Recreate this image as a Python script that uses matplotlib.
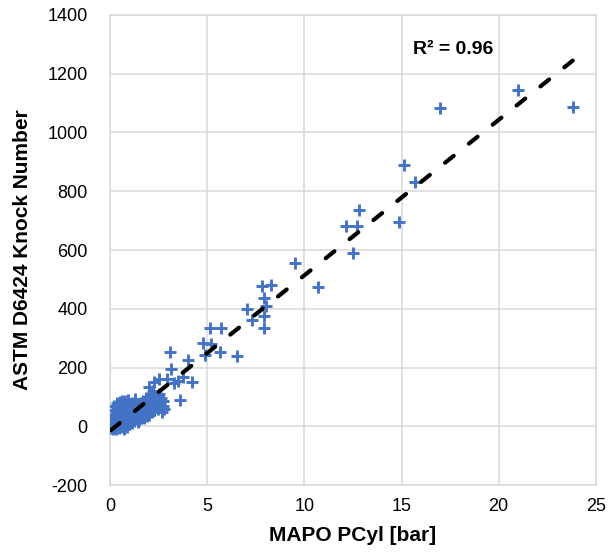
import matplotlib
matplotlib.use('Agg')
import matplotlib.pyplot as plt
import numpy as np

plt.rcParams['font.family'] = ['Liberation Sans', 'DejaVu Sans']
plt.rcParams['lines.scale_dashes'] = False
plt.rcParams['axes.unicode_minus'] = False

# dense cluster near origin (MAPO PCyl [bar], knock number)
cluster_x = [0.05, 0.10, 0.12, 0.15, 0.18, 0.20, 0.22, 0.25, 0.28, 0.30,
             0.32, 0.35, 0.38, 0.40, 0.42, 0.45, 0.48, 0.50, 0.52, 0.55,
             0.58, 0.60, 0.62, 0.65, 0.68, 0.70, 0.72, 0.75, 0.78, 0.80,
             0.82, 0.85, 0.88, 0.90, 0.92, 0.95, 0.98, 1.00, 1.02, 1.05,
             1.08, 1.10, 1.12, 1.15, 1.18, 1.20, 1.22, 1.25, 1.28, 1.30,
             1.32, 1.35, 1.38, 1.40, 1.42, 1.45, 1.48, 1.50, 1.52, 1.55,
             1.58, 1.60, 1.62, 1.65, 1.68, 1.70, 1.72, 1.75, 1.78, 1.80,
             1.82, 1.85, 1.88, 1.90, 1.92, 1.95, 1.98, 2.00, 2.02, 2.05,
             2.08, 2.10, 2.12, 2.15, 2.18, 2.20, 2.22, 2.25, 2.28, 2.30,
             2.35, 2.40, 2.45, 2.50, 2.55, 2.60, 2.65, 2.70, 2.75, 2.80,
             0.08, 0.15, 0.25, 0.30, 0.45, 0.60, 0.70, 0.85, 1.00, 0.20,
             0.35, 0.50, 0.60, 0.40, 0.90, 1.30]
cluster_y = [-5, 2, 10, -8, 15, 25, 5, 35, -2, 12,
             45, 20, 60, 30, 8, 50, 70, 18, 40, -3,
             28, 55, 75, 10, 35, 62, 22, 45, 85, 5,
             30, 58, 15, 40, 70, 25, 50, 8, 35, 65,
             20, 45, 80, 12, 30, 55, 38, 18, 62, 42,
             25, 50, 70, 32, 15, 55, 40, 22, 65, 48,
             30, 75, 52, 35, 60, 42, 88, 28, 55, 70,
             45, 95, 60, 35, 78, 50, 100, 65, 40, 85,
             58, 110, 72, 48, 92, 62, 120, 80, 55, 100,
             70, 90, 60, 110, 75, 95, 50, 85, 70, 60,
             20, 40, 55, -10, -5, 0, -8, -2, 10, 70,
             80, 82, 88, 65, 90, 92]

# scattered points above the cluster
outer_x = [1.98, 2.50, 2.93, 3.50, 4.22, 3.60, 3.06, 4.00, 3.15, 3.75,
           3.27, 2.24, 4.80, 5.17, 5.13, 5.72, 5.65, 4.91, 6.51, 7.06,
           7.32, 7.83, 8.28, 7.92, 8.01, 7.92, 7.92, 9.54, 10.68, 12.48,
           12.14, 12.73, 12.83, 14.89, 15.12, 15.67, 16.96, 21.00, 23.81]
outer_y = [135, 163, 162, 155, 151, 90, 253, 227, 194, 167,
           149, 152, 284, 282, 336, 336, 253, 242, 241, 398,
           361, 477, 480, 436, 409, 376, 334, 557, 476, 591,
           683, 683, 735, 697, 890, 831, 1082, 1144, 1087]

x_vals = cluster_x + outer_x
y_vals = cluster_y + outer_y

# linear trendline as shown on the chart
trend_slope = 52.9
trend_intercept = -15.0
r2_label = 'R² = 0.96'

xticks = [0, 5, 10, 15, 20, 25]
yticks = [-200, 0, 200, 400, 600, 800, 1000, 1200, 1400]

fig = plt.figure(figsize=(6.08, 5.52), dpi=100)
ax = fig.add_axes([0.181, 0.121, 0.799, 0.852])

ax.plot(x_vals, y_vals, linestyle='none', marker='+', markersize=8,
        markeredgewidth=2.1, color='#4472C4', zorder=3)

tx = np.array([min(x_vals), max(x_vals)])
ax.plot(tx, trend_slope * tx + trend_intercept, color='black', linewidth=3,
        dashes=(8, 14), dash_capstyle='round', zorder=4)

ax.text(15.6, 1282, r2_label, fontsize=14, fontweight='bold', va='center', ha='left')

ax.set_xlim(0, 25)
ax.set_ylim(-200, 1400)
ax.set_xticks(xticks)
ax.set_yticks(yticks)
ax.grid(True, color='#D9D9D9', linewidth=1.1, zorder=0)
ax.set_axisbelow(True)
for s in ax.spines.values():
    s.set_color('#D9D9D9')
    s.set_linewidth(1.1)
ax.tick_params(length=0, labelsize=13, colors='#000000')
ax.tick_params(axis='y', pad=16)
ax.tick_params(axis='x', pad=9)

ax.set_xlabel('MAPO PCyl [bar]', fontsize=15, fontweight='bold')
ax.set_ylabel('ASTM D6424 Knock Number', fontsize=15, fontweight='bold')
ax.xaxis.set_label_coords(0.5, -0.087)
ax.yaxis.set_label_coords(-0.16, 0.5)

fig.savefig('out.png', dpi=100)
